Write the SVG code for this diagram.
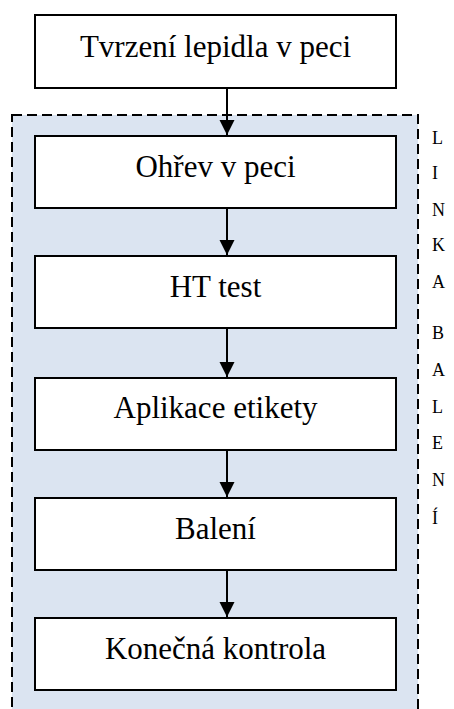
<svg xmlns="http://www.w3.org/2000/svg" width="454" height="709" viewBox="0 0 454 709">
  <style>
    text { font-family: 'Liberation Serif', 'Times New Roman', Tinos, 'DejaVu Serif', serif; fill: #000000; }
    .box { fill: #ffffff; stroke: #000000; stroke-width: 2; }
    .lbl { font-size: 31px; text-anchor: middle; }
    .side { font-size: 18px; }
    .conn { stroke: #000000; stroke-width: 2; fill: none; marker-end: url(#arrow); }
  </style>
  <defs>
    <marker id="arrow" markerUnits="userSpaceOnUse" markerWidth="15" markerHeight="16" refX="15" refY="7.5" orient="auto">
      <path d="M0,0 L15,7.5 L0,15 Z" fill="#000000"/>
    </marker>
  </defs>

  <rect width="454" height="709" fill="#ffffff"/>

  <!-- packaging line area -->
  <g id="linka-baleni">
    <rect x="12" y="115" width="406" height="610" fill="#dbe4f1" stroke="#000000" stroke-width="2" stroke-dasharray="10,5"/>
    <g class="side">
      <text class="side" x="432" y="144">L</text>
      <text class="side" x="432" y="179">I</text>
      <text class="side" x="432" y="216">N</text>
      <text class="side" x="432" y="251">K</text>
      <text class="side" x="432" y="288">A</text>
      <text class="side" x="432" y="339">B</text>
      <text class="side" x="432" y="376">A</text>
      <text class="side" x="432" y="413">L</text>
      <text class="side" x="432" y="449">E</text>
      <text class="side" x="432" y="486">N</text>
      <text class="side" x="432" y="524">Í</text>
    </g>
  </g>

  <!-- connectors -->
  <g id="connectors">
    <line class="conn" x1="227" y1="88" x2="227" y2="135"/>
    <line class="conn" x1="227" y1="208" x2="227" y2="255"/>
    <line class="conn" x1="227" y1="328" x2="227" y2="377"/>
    <line class="conn" x1="227" y1="450" x2="227" y2="497"/>
    <line class="conn" x1="227" y1="570" x2="227" y2="617"/>
  </g>

  <g id="tvrzeni">
    <rect class="box" x="35" y="15" width="361" height="73"/>
    <text class="lbl" x="215.5" y="57">Tvrzení lepidla v peci</text>
  </g>
  <g id="ohrev">
    <rect class="box" x="35" y="136" width="361" height="72"/>
    <text class="lbl" x="215.5" y="177">Ohřev v peci</text>
  </g>
  <g id="ht-test">
    <rect class="box" x="35" y="256" width="361" height="72"/>
    <text class="lbl" x="215.5" y="297">HT test</text>
  </g>
  <g id="aplikace">
    <rect class="box" x="35" y="378" width="361" height="72"/>
    <text class="lbl" x="215.5" y="418">Aplikace etikety</text>
  </g>
  <g id="baleni">
    <rect class="box" x="35" y="498" width="361" height="72"/>
    <text class="lbl" x="215.5" y="539">Balení</text>
  </g>
  <g id="kontrola">
    <rect class="box" x="35" y="618" width="361" height="72"/>
    <text class="lbl" x="215.5" y="659">Konečná kontrola</text>
  </g>
</svg>
